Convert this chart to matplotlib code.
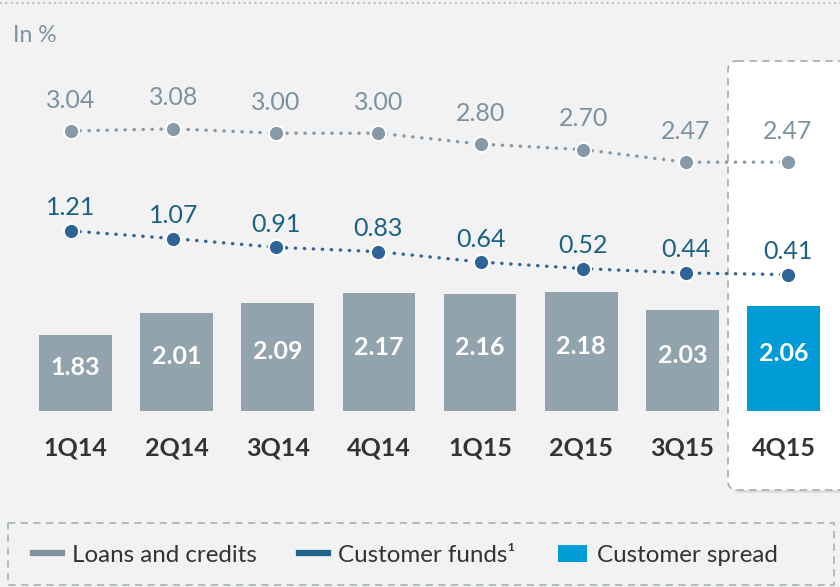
import matplotlib.pyplot as plt
from matplotlib.lines import Line2D
from matplotlib.patches import Patch, FancyBboxPatch, Rectangle

plt.rcParams['font.family'] = ['Lato', 'DejaVu Sans']

# data
quarters = ['1Q14', '2Q14', '3Q14', '4Q14', '1Q15', '2Q15', '3Q15', '4Q15']
loans = [3.04, 3.08, 3.00, 3.00, 2.80, 2.70, 2.47, 2.47]
funds = [1.21, 1.07, 0.91, 0.83, 0.64, 0.52, 0.44, 0.41]
spread = [1.83, 2.01, 2.09, 2.17, 2.16, 2.18, 2.03, 2.06]

bg = '#f2f2f2'
grey_bar = '#91a4ae'
blue_bar = '#009cd8'
loans_col = '#8599a8'
loans_txt = '#7b93a1'
funds_col = '#2f6497'
funds_txt = '#1b6184'
dark = '#333333'

W, H = 840, 587
fig = plt.figure(figsize=(W / 100, H / 100), dpi=100, facecolor=bg)

# background layer in pixel coordinates
bgax = fig.add_axes([0, 0, 1, 1], zorder=0)
bgax.set_xlim(0, W)
bgax.set_ylim(H, 0)
bgax.axis('off')
bgax.plot([0, W], [3, 3], color='#b5b5b5', lw=1.3, ls=(0, (1, 2)))
bgax.text(13, 36, 'In %', fontsize=16.5, color=loans_txt, va='center', ha='left')

# highlight box around last quarter
shadow = FancyBboxPatch((731, 64), 130, 429, boxstyle='round,pad=0,rounding_size=9',
                        facecolor='#d9d9d9', edgecolor='none', alpha=0.8)
bgax.add_patch(shadow)
hl = FancyBboxPatch((728, 61), 130, 429, boxstyle='round,pad=0,rounding_size=9',
                    facecolor='white', edgecolor='#b0b0b0', lw=1.3, ls=(0, (4, 3)))
bgax.add_patch(hl)

# legend frame
bgax.add_patch(Rectangle((8, 523), 826, 62, facecolor='none', edgecolor='#a9b7bf',
                         lw=1.3, ls=(0, (4, 3))))

# bars
bax = fig.add_axes([0, (H - 411) / H, 1, 411 / H], zorder=1)
bax.patch.set_alpha(0)
bax.axis('off')
x = list(range(len(quarters)))
colors = [grey_bar] * 7 + [blue_bar]
bax.bar(x, spread, width=0.72, color=colors)
base = 1.21
bax.set_ylim(base, base + 411 / 123)
bax.set_xlim(-75.5 / 101.14, (W - 75.5) / 101.14)
for i, v in enumerate(spread):
    bax.text(i, (base + v) / 2 + 0.04, f'{v:.2f}', ha='center', va='center',
             color='white', fontsize=18, fontweight='bold')
for i, q in enumerate(quarters):
    bax.text(i, base - 37 / 123, q, ha='center', va='center', color=dark,
             fontsize=18, fontweight='bold')

# lines
lax = fig.add_axes([0, 0, 1, 1], zorder=2)
lax.patch.set_alpha(0)
lax.axis('off')
lax.set_xlim(-71 / 102.43, (W - 71) / 102.43)
lax.set_ylim(3.04 - (H - 131) / 54.6, 3.04 + 131 / 54.6)
for vals, c, tc, off in [(loans, loans_col, loans_txt, 31), (funds, funds_col, funds_txt, 23)]:
    lax.plot(x, vals, color=c, lw=2.4, ls=(0, (0.1, 2.6)), dash_capstyle='round',
             marker='o', markersize=11, markerfacecolor=c, markeredgecolor='white',
             markeredgewidth=1.5)
    for i, v in enumerate(vals):
        lax.annotate(f'{v:.2f}', (i, v), xytext=(0, off), textcoords='offset pixels',
                     ha='center', va='center', color=tc, fontsize=18)

handles = [Line2D([], [], color='#7f939f', lw=4.5),
           Line2D([], [], color='#1d6289', lw=4.5),
           Patch(facecolor=blue_bar, edgecolor='none')]
labels = ['Loans and credits', 'Customer funds¹', 'Customer spread']
bgax.legend(handles, labels, ncol=3, frameon=False, loc='center left',
            bbox_to_anchor=(33 / W, 1 - 555 / H), bbox_transform=fig.transFigure,
            fontsize=17.4, handlelength=1.2, handletextpad=0.42, columnspacing=1.75,
            labelcolor=dark, borderpad=0, borderaxespad=0)

fig.savefig('out.png', dpi=100, facecolor=bg)
